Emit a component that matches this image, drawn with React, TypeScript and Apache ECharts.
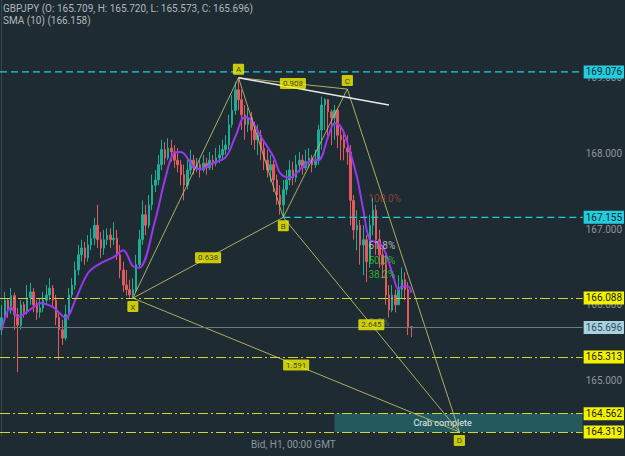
import React, { useEffect, useRef } from "react";
import * as echarts from "echarts";

// ---------- data ----------
const symbolName = "GBPJPY";
const smaPeriod = 10;
const totalSlots = 182; // candle slots incl. future space
const firstOpen = 165.67;

const closes = [
  165.83, 166.06, 165.93, 166.12, 165.87, 165.73, 166.0, 165.9, 166.09, 166.17,
  166.0, 165.9, 165.96, 166.06, 166.13, 166.22, 166.06, 165.83, 165.67, 165.56,
  165.87, 166.13, 166.26, 166.46, 166.66, 166.75, 166.62, 166.79, 166.88, 167.05,
  166.86, 166.75, 166.86, 166.92, 166.86, 166.88, 166.66, 166.46, 166.26, 166.2,
  166.13, 166.2, 166.53, 166.86, 167.19, 167.05, 167.32, 167.58, 167.65, 167.85,
  168.05, 167.94, 168.07, 168.02, 167.91, 167.85, 167.72, 167.58, 167.78, 167.91,
  167.81, 167.85, 167.78, 167.87, 167.81, 167.91, 167.87, 167.94, 167.98, 168.05,
  168.11, 168.38, 168.57, 168.84, 168.71, 168.51, 168.38, 168.47, 168.31, 168.18,
  168.24, 168.07, 167.91, 167.78, 167.85, 167.65, 167.45, 167.32, 167.52, 167.65,
  167.78, 167.68, 167.85, 167.91, 167.81, 167.89, 167.94, 167.85, 167.91, 168.31,
  168.64, 168.71, 168.55, 168.47, 168.57, 168.24, 168.18, 168.07, 168.02, 167.38,
  166.99, 167.05, 166.79, 166.86, 166.57, 167.05, 167.25, 166.86, 166.66, 166.53,
  166.13, 165.93, 166.13, 166.0, 166.2, 166.33, 166.2, 165.709, 165.696,
];
const highs = [
  166.0, 166.17, 166.09, 166.22, 166.16, 165.96, 166.06, 166.04, 166.26, 166.29,
  166.22, 166.06, 166.09, 166.17, 166.26, 166.35, 166.26, 166.13, 165.9, 165.8,
  166.0, 166.22, 166.35, 166.57, 166.79, 166.86, 166.83, 166.92, 167.01, 167.15,
  167.32, 166.96, 166.99, 167.01, 167.01, 167.09, 166.99, 166.79, 166.57, 166.46,
  166.33, 166.35, 166.66, 166.99, 167.38, 167.32, 167.45, 167.72, 167.78, 167.98,
  168.18, 168.15, 168.2, 168.18, 168.11, 168.07, 167.91, 167.85, 167.94, 168.05,
  167.98, 167.94, 167.91, 167.98, 167.94, 168.02, 167.98, 168.07, 168.11, 168.18,
  168.24, 168.51, 168.77, 168.94, 169.0, 168.84, 168.64, 168.6, 168.55, 168.42,
  168.38, 168.31, 168.18, 168.05, 167.98, 167.91, 167.72, 167.58, 167.65, 167.78,
  167.91, 167.89, 167.98, 168.02, 167.98, 168.05, 168.07, 167.98, 168.05, 168.38,
  168.75, 168.73, 168.72, 168.58, 168.64, 168.6, 168.38, 168.31, 168.24, 168.11,
  167.45, 167.25, 167.12, 167.05, 166.92, 167.19, 167.41, 167.32, 166.99, 166.79,
  166.66, 166.26, 166.26, 166.2, 166.39, 166.49, 166.43, 166.3, 165.72,
];
const lows = [
  165.6, 165.77, 165.83, 165.88, 165.67, 165.11, 165.67, 165.83, 165.87, 166.0,
  165.9, 165.8, 165.83, 165.9, 166.0, 166.06, 165.96, 165.73, 165.27, 165.47,
  165.53, 165.8, 166.09, 166.2, 166.39, 166.57, 166.53, 166.57, 166.72, 166.79,
  166.75, 166.62, 166.66, 166.79, 166.75, 166.79, 166.59, 166.35, 166.17, 166.12,
  166.09, 166.09, 166.17, 166.49, 166.79, 166.92, 167.01, 167.25, 167.49, 167.58,
  167.78, 167.85, 167.91, 167.89, 167.81, 167.75, 167.58, 167.38, 167.52, 167.72,
  167.72, 167.75, 167.68, 167.75, 167.72, 167.78, 167.78, 167.83, 167.87, 167.91,
  167.98, 168.05, 168.34, 168.51, 168.57, 168.31, 168.18, 168.28, 168.11, 168.05,
  167.98, 167.91, 167.78, 167.68, 167.62, 167.49, 167.32, 167.19, 167.155, 167.45,
  167.58, 167.58, 167.62, 167.75, 167.72, 167.78, 167.81, 167.75, 167.81, 167.85,
  168.05, 168.31, 168.18, 168.11, 168.18, 168.07, 167.91, 167.91, 167.85, 167.05,
  166.86, 166.72, 166.53, 166.39, 166.3, 166.49, 166.92, 166.66, 166.49, 166.35,
  166.0, 165.83, 165.9, 165.9, 166.0, 166.09, 166.06, 165.6, 165.573,
];

// SMA(10) values, at candle indices
const smaIndex = [
  0, 3, 5, 10, 12, 16, 20, 23, 27, 31, 35, 38, 41, 43, 48, 51, 54, 56, 60, 62,
  66, 70, 73, 76, 78, 81, 85, 87, 90, 94, 97, 99, 102, 104, 106, 108, 111, 113,
  115, 118, 120, 122, 124, 125, 127, 128,
];
const smaValues = [
  165.67, 165.97, 165.84, 165.97, 166.02, 165.97, 165.83, 166.06, 166.42, 166.55,
  166.63, 166.72, 166.51, 166.49, 167.12, 167.65, 168.01, 168.02, 167.82, 167.79,
  167.87, 167.95, 168.22, 168.48, 168.44, 168.22, 167.95, 167.74, 167.68, 167.82,
  167.91, 167.91, 168.22, 168.4, 168.35, 168.14, 167.69, 167.25, 166.86, 166.82,
  166.68, 166.42, 166.2, 166.24, 166.24, 166.158,
];

// harmonic pattern
const xabcdNames = ["X", "A", "B", "C", "D"];
const xabcdIndex = [41, 74, 88, 108, 143];
const xabcdPrice = [166.088, 169.0, 167.155, 168.85, 164.319];
const ratioFrom = [0, 1, 2, 0];
const ratioTo = [2, 3, 4, 4];
const ratioText = ["0.638", "0.908", "2.645", "1.591"];

// white trend line
const trendIndex = [74, 121];
const trendPrice = [169.0, 168.64];

// horizontal levels
const yellowLevels = [166.088, 165.313, 164.562, 164.319];
const cyanLevels = [169.076, 167.155];
const cyanStartIndex = [-0.5, 88];
const lastPrice = 165.696;

// fib retracement labels
const fibNames = ["100.0%", "61.8%", "50.0%", "38.2%", "0.0%"];
const fibRatios = [1, 0.618, 0.5, 0.382, 0];
const fibColors = ["#a9403f", "#d4d8da", "#2fd12f", "#2fd12f", "#5e6a70"];
const fibTop = 167.41;
const fibBottom = 165.77;
const fibIndex = 114.6;

// crab completion zone
const zoneStartIndex = 104;
const zoneHigh = 164.562;
const zoneLow = 164.319;

// ---------- styles ----------
const BG = "#1f2b32";
const AXIS_TXT = "#8c969d";
const YELLOW = "#d3d62a";
const CYAN = "#22cde0";
const PATTERN = "rgba(196,196,112,0.85)";
const FONT = "Roboto, 'Noto Sans', sans-serif";

export default function App() {
  const ref = useRef<HTMLDivElement>(null);

  useEffect(() => {
    if (!ref.current) return;
    document.body.style.margin = "0";
    document.body.style.background = BG;
    const chart = echarts.init(ref.current, undefined, { renderer: "svg" });

    const candles = closes.map((c, i) => [
      i === 0 ? firstOpen : closes[i - 1],
      c,
      lows[i],
      highs[i],
    ]);
    const last = candles[candles.length - 1];
    const fmt = (v: number) => v.toFixed(3);

    const boxLabel = (bg: string, fg: string, text: string) => ({
      show: true,
      position: "end",
      distance: 1,
      formatter: text,
      backgroundColor: bg,
      color: fg,
      fontSize: 10,
      fontFamily: FONT,
      padding: [2, 2, 1, 2],
    });

    const markLines: any[] = [
      ...yellowLevels.map((v) => ({
        yAxis: v,
        lineStyle: { color: YELLOW, type: [10, 3, 2, 3], width: 1 },
        label: boxLabel("#f2f200", "#1a1a1a", fmt(v)),
      })),
      {
        yAxis: lastPrice,
        lineStyle: { color: "#6b7a82", type: "solid", width: 1 },
        label: boxLabel("#a9d2e0", "#2d4a5a", fmt(lastPrice)),
      },
    ];

    const diagSeries = ratioFrom.map((f, k) => ({
      type: "line",
      xAxisIndex: 1,
      yAxisIndex: 0,
      symbol: "none",
      silent: true,
      z: 3,
      lineStyle: { color: PATTERN, width: 1 },
      data: [
        [xabcdIndex[f], xabcdPrice[f]],
        [xabcdIndex[ratioTo[k]], xabcdPrice[ratioTo[k]]],
      ],
    }));

    const cyanSeries = cyanLevels.map((v, k) => ({
      type: "line",
      xAxisIndex: 1,
      yAxisIndex: 0,
      symbol: "none",
      silent: true,
      clip: false,
      z: 5,
      color: CYAN,
      lineStyle: { color: CYAN, type: [7, 4], width: 1.3 },
      data: [
        [cyanStartIndex[k], v],
        [totalSlots - 0.5, v],
      ],
      endLabel: {
        show: true,
        distance: 1,
        formatter: fmt(v),
        backgroundColor: CYAN,
        color: "#10272c",
        fontSize: 10,
        fontFamily: FONT,
        padding: [2, 2, 1, 2],
      },
    }));

    const option: any = {
      animation: false,
      backgroundColor: BG,
      textStyle: { fontFamily: FONT },
      grid: { left: 0, right: 41, top: 0, bottom: 20 },
      xAxis: [
        {
          type: "category",
          data: Array.from({ length: totalSlots }, (_, i) => String(i)),
          boundaryGap: true,
          show: false,
        },
        {
          type: "value",
          min: -0.5,
          max: totalSlots - 0.5,
          show: false,
        },
      ],
      yAxis: [
        {
          type: "value",
          position: "right",
          min: 164.266,
          max: 170.027,
          splitLine: { show: false },
          axisTick: { show: false },
          axisLine: { show: true, lineStyle: { color: "#3a474e" } },
          axisLabel: {
            color: AXIS_TXT,
            fontSize: 10,
            margin: 3,
            fontFamily: FONT,
            formatter: (v: number) =>
              Math.abs(v - Math.round(v)) < 1e-6 && v < 169.9 ? v.toFixed(3) : "",
          },
        },
      ],
      graphic: [
        {
          type: "text",
          left: 3,
          top: 3,
          style: {
            text: `${symbolName} (O: ${fmt(last[0])}, H: ${fmt(last[3])}, L: ${fmt(
              last[2]
            )}, C: ${fmt(last[1])})`,
            fill: "#aeb7bd",
            fontSize: 10,
            fontFamily: FONT,
          },
        },
        {
          type: "text",
          left: 3,
          top: 15,
          style: {
            text: `SMA (${smaPeriod}) (${fmt(smaValues[smaValues.length - 1])})`,
            fill: "#aeb7bd",
            fontSize: 10,
            fontFamily: FONT,
          },
        },
        {
          type: "text",
          left: 251,
          top: 439,
          style: {
            text: "Bid, H1, 00:00 GMT",
            fill: AXIS_TXT,
            fontSize: 10,
            fontFamily: FONT,
          },
        },
      ],
      series: [
        {
          type: "candlestick",
          xAxisIndex: 0,
          yAxisIndex: 0,
          barWidth: 2,
          data: candles,
          itemStyle: {
            color: "#22ab94",
            color0: "#e05a5f",
            borderColor: "#22ab94",
            borderColor0: "#e05a5f",
            borderWidth: 1,
          },
          z: 2,
        },
        {
          type: "line",
          xAxisIndex: 1,
          yAxisIndex: 0,
          data: smaIndex.map((x, k) => [x, smaValues[k]]),
          symbol: "none",
          smooth: 0.35,
          silent: true,
          lineStyle: { color: "#9b36f0", width: 2 },
          z: 3,
        },
        ...diagSeries,
        ...cyanSeries,
        {
          type: "line",
          xAxisIndex: 1,
          yAxisIndex: 0,
          symbol: "none",
          silent: true,
          clip: false,
          z: 4,
          lineStyle: { color: PATTERN, width: 1 },
          data: xabcdIndex.map((x, k) => [x, xabcdPrice[k]]),
          markLine: {
            symbol: ["none", "none"],
            silent: true,
            animation: false,
            data: markLines,
          },
          markArea: {
            silent: true,
            itemStyle: { color: "rgba(40,130,132,0.55)" },
            label: {
              show: true,
              position: "inside",
              formatter: "Crab complete",
              color: "#e6eeee",
              fontSize: 9,
              fontFamily: FONT,
              offset: [-16, 0],
            },
            data: [
              [
                { coord: [zoneStartIndex, zoneHigh] },
                { coord: [totalSlots - 0.5, zoneLow] },
              ],
            ],
          },
        },
        {
          type: "line",
          xAxisIndex: 1,
          yAxisIndex: 0,
          symbol: "none",
          silent: true,
          z: 4,
          lineStyle: { color: "#e8e8e8", width: 1.5 },
          data: trendIndex.map((x, k) => [x, trendPrice[k]]),
        },
        {
          type: "scatter",
          xAxisIndex: 1,
          yAxisIndex: 0,
          symbolSize: 0,
          silent: true,
          z: 6,
          data: fibNames.map((n, k) => ({
            name: n,
            value: [fibIndex, fibBottom + fibRatios[k] * (fibTop - fibBottom)],
            label: { color: fibColors[k] },
          })),
          label: {
            show: true,
            position: "right",
            distance: 0,
            formatter: "{b}",
            fontSize: 10,
            fontFamily: FONT,
          },
        },
        {
          type: "scatter",
          xAxisIndex: 1,
          yAxisIndex: 0,
          symbolSize: 0,
          silent: true,
          z: 7,
          data: ratioFrom.map((f, k) => ({
            name: ratioText[k],
            value: [
              (xabcdIndex[f] + xabcdIndex[ratioTo[k]]) / 2,
              (xabcdPrice[f] + xabcdPrice[ratioTo[k]]) / 2,
            ],
          })),
          label: {
            show: true,
            position: "inside",
            formatter: "{b}",
            backgroundColor: "#f2f200",
            color: "#1a1a1a",
            fontSize: 8,
            fontFamily: FONT,
            padding: [2, 3, 1, 3],
            borderRadius: 1,
          },
        },
        {
          type: "scatter",
          xAxisIndex: 1,
          yAxisIndex: 0,
          symbolSize: 0,
          silent: true,
          clip: false,
          z: 7,
          data: xabcdNames.map((n, k) => ({
            name: n,
            value: [xabcdIndex[k], xabcdPrice[k]],
            label: { position: k % 2 === 0 ? "bottom" : "top" },
          })),
          label: {
            show: true,
            formatter: "{b}",
            distance: 3,
            backgroundColor: "#f2f200",
            color: "#1a1a1a",
            fontSize: 8,
            fontFamily: FONT,
            padding: [2, 3, 1, 3],
            borderRadius: 1,
          },
        },
      ],
    };

    chart.setOption(option);
    return () => chart.dispose();
  }, []);

  return <div ref={ref} style={{ width: 625, height: 456 }} />;
}
